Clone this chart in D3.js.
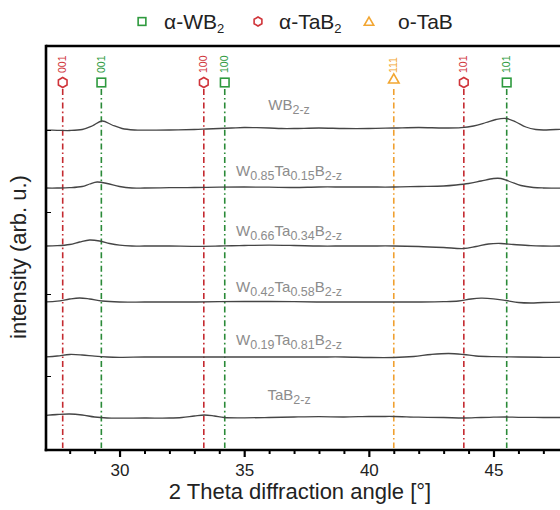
<!DOCTYPE html>
<html><head><meta charset="utf-8">
<script src="https://cdn.jsdelivr.net/npm/d3@7"></script>
<style>body{margin:0;background:#fff}svg{display:block;font-family:"Liberation Sans",Arial,sans-serif}</style>
</head><body>
<svg id="c" width="560" height="510"></svg>
<script>
// ---------------- data ----------------
const xTicks = [30, 35, 40, 45];
const xMinorTicks = [28, 29, 31, 32, 33, 34, 36, 37, 38, 39, 41, 42, 43, 44, 46, 47, 48, 49];
const yTicks = [74, 156, 238, 320];

const phases = ["α-WB", "α-TaB", "o-TaB"];
const phaseSub = ["2", "2", ""];
const phaseColors = ["#2e9a3e", "#d0343a", "#f2a632"];
const phaseLineColors = ["#2a8a38", "#c42a30", "#f0a030"];

// reference reflections: [2theta, phase index, hkl]
const reflections = [
  [27.72, 1, "001"],
  [29.27, 0, "001"],
  [33.38, 1, "100"],
  [34.22, 0, "100"],
  [41.00, 2, "111"],
  [43.81, 1, "101"],
  [45.53, 0, "101"]
];

// samples: name parts [text, kind] and stacking offsets
const sampleNames = [
  [["WB", ""], ["2-z", "s"]],
  [["W", ""], ["0.85", "s"], ["Ta", ""], ["0.15", "s"], ["B", ""], ["2-z", "s"]],
  [["W", ""], ["0.66", "s"], ["Ta", ""], ["0.34", "s"], ["B", ""], ["2-z", "s"]],
  [["W", ""], ["0.42", "s"], ["Ta", ""], ["0.58", "s"], ["B", ""], ["2-z", "s"]],
  [["W", ""], ["0.19", "s"], ["Ta", ""], ["0.81", "s"], ["B", ""], ["2-z", "s"]],
  [["TaB", ""], ["2-z", "s"]]
];
const offsets = [320, 262, 204, 148, 93, 33];

const WB2 = [[27,0],[27.5,-0.3],[28,-0.5],[28.5,0.5],[28.9,4],[29.3,9],[29.7,5],[30.1,1.5],[30.6,0],[31,-0.2],[32,0],[33,0.5],[33.5,1],[34,1.5],[34.5,2],[35,2.5],[35.5,2.3],[36,2],[36.5,1.5],[37,1.5],[38,2],[39,1.5],[40,1.5],[41,2],[42,2.5],[43,2],[43.7,2.3],[44.2,4],[44.7,7.5],[45.1,10.5],[45.5,11.5],[45.9,8],[46.3,3],[46.7,0.5],[47,0],[47.5,0.5],[48,0.5],[49,0.3],[50,0.3]];
const W85 = [[27,0],[27.5,0],[28,0.3],[28.5,1.5],[28.8,4],[29.1,6],[29.5,4.5],[30,1.5],[30.5,0],[31,0],[32,0.3],[33,0.5],[34,0.8],[35,1],[36,0.8],[37,0.5],[38,1],[39,1],[40,1],[41,1],[42,1.5],[43,2],[43.5,3],[44,4.5],[44.5,7],[45,9.5],[45.3,9.5],[45.7,6],[46.1,2.5],[46.6,0.5],[47,0],[48,0],[49,0],[50,0]];
const W66 = [[27,0],[27.5,0.3],[28,1.5],[28.4,4],[28.8,6],[29.2,5],[29.6,2.5],[30,0.8],[30.5,0],[31,0],[32,0],[33,-0.3],[34,0],[35,0.5],[36,0.8],[37,0.5],[38,0],[39,0],[40,0],[41,0],[42,-0.5],[43,-1.5],[43.8,-2.5],[44.3,-0.5],[44.8,2],[45.3,2.5],[45.8,1.5],[46.5,0.3],[47,0],[48,0],[49,0],[50,0]];
const W42 = [[27,0],[27.5,0.8],[28,3],[28.4,4],[28.8,3],[29.3,1],[30,0],[31,0],[32,0],[33,0],[34,0.3],[35,0.5],[36,0.5],[37,0.3],[38,0],[39,0],[40,0],[41,0],[42,0],[43,0.3],[43.6,1],[44.1,3],[44.5,3.8],[45,3.2],[45.5,1.5],[46,-0.5],[46.5,-1],[47,-0.5],[48,0],[49,0],[50,0]];
const W19 = [[27,0],[27.5,1],[28,2.5],[28.5,2],[29,0.8],[29.5,0],[30,-0.3],[31,0],[32,0],[33,0],[34,0],[35,0],[36,0],[37,0],[38,0],[39,0],[40,-0.5],[41,-0.5],[41.8,0.5],[42.5,2.5],[43.2,3.5],[43.8,2.5],[44.3,1],[45,0.3],[46,0],[47,-0.3],[48,-0.3],[49,-0.3],[50,-0.3]];
const TaB2 = [[27,1.5],[27.5,2.5],[28,3],[28.5,2],[29,0],[29.5,-1],[30,-1.2],[31,-1],[32,-1],[32.5,-0.5],[33,1],[33.4,2],[33.8,1],[34.2,-0.5],[35,-0.8],[36,-0.5],[37,0],[38,0.3],[39,0],[40,0.5],[40.5,0.5],[41,0.5],[42,-0.2],[43,-0.5],[43.8,-1],[44.5,-0.5],[45,-0.2],[45.5,0],[46,-0.3],[47,-0.5],[48,-0.5],[49,-0.5],[50,-0.5]];
const traces = [WB2, W85, W66, W42, W19, TaB2];

// ---------------- layout ----------------
const svg = d3.select("#c");
const mLeft = 46, mTop = 46, mBottom = 450;
const x = d3.scaleLinear().domain([27.05, 50]).range([mLeft, mLeft + 22.95 * 24.93]);
const y = d3.scaleLinear().domain([0, 404]).range([mBottom, mTop]);
const mRight = x(50);

function drawMarker(g, p, cx, cy, s) {
  if (p === 0) {
    g.append("rect").attr("x", cx - 4.3 * s).attr("y", cy - 4.3 * s).attr("width", 8.6 * s).attr("height", 8.6 * s)
      .attr("fill", "#fff").attr("stroke", phaseColors[0]).attr("stroke-width", 1.6);
  } else if (p === 1) {
    const r = 5 * s;
    const pts = d3.range(6).map(i => {
      const a = Math.PI / 2 + i * Math.PI / 3;
      return [cx + r * Math.cos(a), cy + r * Math.sin(a)];
    });
    g.append("polygon").attr("points", pts.map(d => d.join(",")).join(" "))
      .attr("fill", "#fff").attr("stroke", phaseColors[1]).attr("stroke-width", 1.6);
  } else {
    const sym = d3.symbol().type(d3.symbolTriangle).size(48 * s * s);
    g.append("path").attr("d", sym()).attr("transform", `translate(${cx},${cy + 1})`)
      .attr("fill", "#fff").attr("stroke", phaseColors[2]).attr("stroke-width", 1.6);
  }
}

// reference lines
const refG = svg.append("g");
reflections.forEach(([t, p, hkl]) => {
  const cx = x(t);
  const my = p === 2 ? 79 : 82.5;
  refG.append("line").attr("x1", cx).attr("x2", cx).attr("y1", 89).attr("y2", mBottom - 2)
    .attr("stroke", phaseLineColors[p]).attr("stroke-width", 1.6)
    .attr("stroke-dasharray", "6,3,1.6,3");
  drawMarker(refG, p, cx, my, 1);
  refG.append("text").attr("transform", `translate(${cx + 3.6},73) rotate(-90)`)
    .attr("font-size", 10.5).attr("fill", phaseColors[p]).text(hkl);
});

// traces
const line = d3.line().x(d => x(d[0])).y(d => d[1]).curve(d3.curveCatmullRom);
svg.append("defs").append("clipPath").attr("id", "clip").append("rect")
  .attr("x", mLeft).attr("y", mTop).attr("width", mRight - mLeft).attr("height", mBottom - mTop);
traces.forEach((tr, i) => {
  svg.append("path")
    .datum(tr.map(d => [d[0], y(offsets[i] + d[1])]))
    .attr("clip-path", "url(#clip)")
    .attr("d", line).attr("fill", "none").attr("stroke", "#454545").attr("stroke-width", 1.3);
});

// sample labels
const labelDy = [20, 12, 10, 10, 12, 17];
sampleNames.forEach((parts, i) => {
  const t = svg.append("text").attr("x", x(36.8)).attr("y", y(offsets[i]) - labelDy[i])
    .attr("text-anchor", "middle").attr("fill", "#8c8c8c").attr("font-size", 15);
  let shifted = false;
  parts.forEach(([txt, kind]) => {
    const ts = t.append("tspan").text(txt);
    if (kind === "s") { ts.attr("font-size", 12.5).attr("dy", shifted ? 0 : 4); shifted = true; }
    else { ts.attr("dy", shifted ? -4 : 0); shifted = false; }
  });
});

// axes
const ax = svg.append("g").attr("transform", `translate(0,${mBottom})`);
ax.call(d3.axisBottom(x).tickValues(xTicks).tickSize(7).tickFormat(d3.format("d")))
  .call(g => g.select(".domain").remove())
  .call(g => g.selectAll(".tick line").attr("stroke", "#000").attr("stroke-width", 2.2))
  .call(g => g.selectAll(".tick text").attr("font-size", 17).attr("fill", "#222").attr("dy", "0.95em")
    .attr("font-family", "Liberation Sans, Arial, sans-serif"));
ax.append("g").call(d3.axisBottom(x).tickValues(xMinorTicks).tickSize(4).tickFormat(""))
  .call(g => g.select(".domain").remove())
  .call(g => g.selectAll(".tick line").attr("stroke", "#000").attr("stroke-width", 2));

const ay = svg.append("g").attr("transform", `translate(${mLeft},0)`);
ay.call(d3.axisRight(y).tickValues(yTicks).tickSize(5).tickFormat(""))
  .call(g => g.select(".domain").remove())
  .call(g => g.selectAll(".tick line").attr("stroke", "#000").attr("stroke-width", 1));

// frame
svg.append("line").attr("x1", mLeft).attr("x2", 560).attr("y1", mTop).attr("y2", mTop).attr("stroke", "#000").attr("stroke-width", 2.6);
svg.append("line").attr("x1", mLeft).attr("x2", mLeft).attr("y1", mTop - 1.3).attr("y2", mBottom + 1.3).attr("stroke", "#000").attr("stroke-width", 2.6);
svg.append("line").attr("x1", mLeft - 1.3).attr("x2", 560).attr("y1", mBottom).attr("y2", mBottom).attr("stroke", "#000").attr("stroke-width", 2.6);

// axis titles
svg.append("text").attr("x", 300).attr("y", 499).attr("text-anchor", "middle").attr("font-size", 22).attr("fill", "#222")
  .text("2 Theta diffraction angle [°]");
svg.append("text").attr("transform", `translate(26,257) rotate(-90)`).attr("text-anchor", "middle")
  .attr("font-size", 22).attr("fill", "#222").text("intensity (arb. u.)");

// legend
const legX = [142, 258, 369];
const legTextX = [164, 279, 398];
const lg = svg.append("g");
phases.forEach((p, i) => {
  drawMarker(lg, i, legX[i], 21.5, 0.9);
  const t = lg.append("text").attr("x", legTextX[i]).attr("y", 29).attr("font-size", 21).attr("fill", "#222");
  t.append("tspan").text(p);
  if (phaseSub[i]) t.append("tspan").attr("font-size", 13).attr("dy", 4).text(phaseSub[i]);
});
</script>
</body></html>
